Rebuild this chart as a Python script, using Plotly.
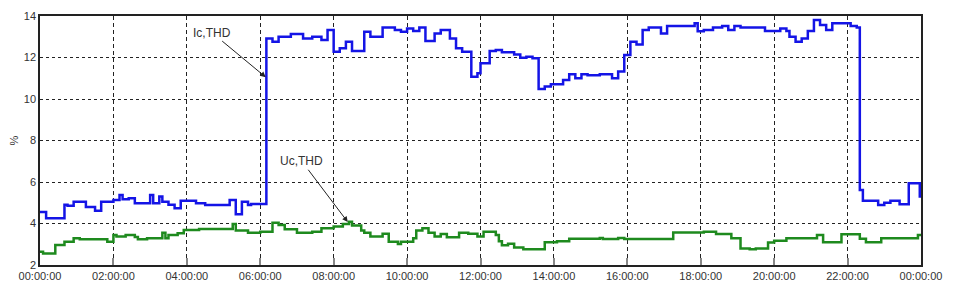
import plotly.graph_objects as go

# ---- data (step series, time "HH:MM" -> value %) ----
ic_times = ["00:00","00:10","00:40","00:45","00:55","01:15","01:30","01:40","02:00","02:10",
            "02:15","02:25","02:35","03:00","03:05","03:15","03:20","03:30","03:40","03:50",
            "04:15","04:30","05:10","05:20","05:30","05:40","05:45","06:10","06:20","06:30",
            "06:50","07:10","07:25","07:40","07:50","08:00","08:10","08:20","08:30","08:50",
            "09:00","09:20","09:40","09:50","10:00","10:10","10:20","10:30","10:45","10:55",
            "11:10","11:20","11:30","11:45","11:55","12:00","12:15","12:25","12:35","12:55",
            "13:05","13:15","13:25","13:35","13:45","13:55","14:15","14:25","14:35","14:45",
            "14:55","15:15","15:35","15:45","15:55","16:05","16:15","16:25","16:35","16:55",
            "17:05","17:50","17:55","18:05","18:20","18:35","18:45","18:55","19:05","19:45",
            "20:10","20:20","20:25","20:35","20:45","20:55","21:05","21:15","21:25","21:35",
            "22:05","22:15","22:20","22:25","22:50","23:00","23:10","23:25","23:40","23:58",
            "24:00"]
ic_thd = [4.55,4.25,4.9,4.85,5.05,4.8,4.62,5.05,5.13,5.37,
          5.17,5.22,4.97,5.37,4.97,5.3,5.05,4.9,4.73,5.1,
          4.97,4.89,5.13,4.44,5.05,4.89,4.94,12.92,12.76,13.0,
          13.13,12.92,13.0,12.84,13.33,12.28,12.44,12.76,12.31,13.24,
          13.0,13.44,13.33,13.24,13.4,13.28,13.44,12.8,13.16,13.33,
          12.92,12.44,12.28,11.07,11.24,11.72,12.31,12.36,12.25,12.15,
          11.99,12.04,11.96,10.48,10.6,10.71,10.92,11.19,11.0,11.19,
          11.15,11.19,11.0,11.32,12.12,12.76,12.63,13.33,13.45,13.16,
          13.52,13.65,13.26,13.33,13.44,13.52,13.33,13.52,13.44,13.28,
          13.4,13.28,13.0,12.76,12.92,13.28,13.81,13.57,13.33,13.65,
          13.52,13.44,5.61,5.1,4.89,5.0,5.1,4.93,5.94,5.3,
          5.3]

uc_times = ["00:00","00:05","00:25","00:40","00:55","01:05","01:50","02:00","02:05","02:20",
            "02:35","02:40","02:55","03:20","03:25","03:30","03:45","03:55","04:20","05:15",
            "05:20","05:40","06:00","06:20","06:30","06:40","07:00","07:25","07:40","08:00",
            "08:15","08:25","08:30","08:45","08:50","09:00","09:20","09:30","09:45","09:50",
            "10:10","10:15","10:25","10:35","10:45","10:55","11:05","11:25","11:40","11:55",
            "12:05","12:25","12:30","12:35","12:45","12:55","13:10","13:45","14:05","14:25",
            "15:15","15:20","15:45","15:55","17:15","18:05","18:25","18:50","19:05","19:20",
            "19:30","19:50","20:00","20:20","21:10","21:20","21:50","22:20","22:30","22:55",
            "23:55","24:00"]
uc_thd = [2.64,2.56,2.96,3.12,3.29,3.24,3.12,3.45,3.37,3.45,
          3.35,3.24,3.29,3.56,3.29,3.45,3.53,3.69,3.74,3.98,
          3.66,3.56,3.6,4.04,3.93,3.72,3.56,3.6,3.77,3.85,
          3.98,4.09,3.9,3.66,3.56,3.37,3.51,3.12,3.01,3.12,
          3.29,3.66,3.77,3.56,3.37,3.5,3.34,3.56,3.51,3.37,
          3.6,3.45,3.15,2.95,3.03,2.84,2.76,3.1,3.14,3.26,
          3.3,3.25,3.3,3.25,3.57,3.6,3.5,3.29,2.8,2.76,
          2.8,3.08,3.17,3.29,3.45,3.1,3.48,3.27,3.1,3.29,
          3.45,3.45]

tick_vals = ["00:00","02:00","04:00","06:00","08:00","10:00","12:00",
             "14:00","16:00","18:00","20:00","22:00","24:00"]


def to_dt(t):
    h, m = t.split(":")
    if int(h) >= 24:
        return "2020-01-02 %02d:%s:00" % (int(h) - 24, m)
    return "2020-01-01 %s:%s:00" % (h, m)


fig = go.Figure()
fig.add_trace(go.Scatter(x=[to_dt(t) for t in uc_times], y=uc_thd, mode="lines",
                         line=dict(color="#1e8a1e", width=2.5, shape="hv"), name="Uc,THD"))
fig.add_trace(go.Scatter(x=[to_dt(t) for t in ic_times], y=ic_thd, mode="lines",
                         line=dict(color="#1414e6", width=2.5, shape="hv"), name="Ic,THD"))

ann_font = dict(family="Liberation Sans Narrow, Liberation Sans, Arial, sans-serif", size=12, color="#333333")
fig.add_annotation(x=to_dt("06:09"), y=11.05, ax=to_dt("04:41"), ay=13.2,
                   axref="x", ayref="y", xref="x", yref="y", text="Ic,THD",
                   showarrow=True, arrowhead=2, arrowsize=1.1, arrowwidth=1,
                   arrowcolor="#222222", font=ann_font)
fig.add_annotation(x=to_dt("08:23"), y=4.07, ax=to_dt("07:08"), ay=7.0,
                   axref="x", ayref="y", xref="x", yref="y", text="Uc,THD",
                   showarrow=True, arrowhead=2, arrowsize=1.1, arrowwidth=1,
                   arrowcolor="#222222", font=ann_font)

tick_font = dict(family="Liberation Sans, Arial, sans-serif", size=11, color="#333333")
fig.update_layout(
    width=947, height=285,
    margin=dict(l=32, r=34, t=8, b=28),
    paper_bgcolor="white", plot_bgcolor="white",
    showlegend=False,
    font=tick_font,
)
fig.update_xaxes(
    type="date", automargin=False,
    range=[to_dt("00:00"), to_dt("24:00")],
    tickvals=[to_dt(t) for t in tick_vals],
    tickformat="%H:%M:%S",
    tickfont=tick_font,
    showgrid=True, gridcolor="#222222", gridwidth=1, griddash="4px,3px",
    showline=True, linecolor="#222222", linewidth=1.5, mirror=True,
    ticks="inside", ticklen=7, tickwidth=2, tickcolor="#888888",
    zeroline=False,
)
fig.update_yaxes(
    range=[2, 14], dtick=2, tick0=2, automargin=False,
    tickfont=tick_font,
    title=dict(text="%", font=tick_font, standoff=8),
    showgrid=True, gridcolor="#222222", gridwidth=1, griddash="3px,3px",
    showline=True, linecolor="#222222", linewidth=1.5, mirror=True,
    ticks="", zeroline=False,
)

fig.write_html("out.html")
